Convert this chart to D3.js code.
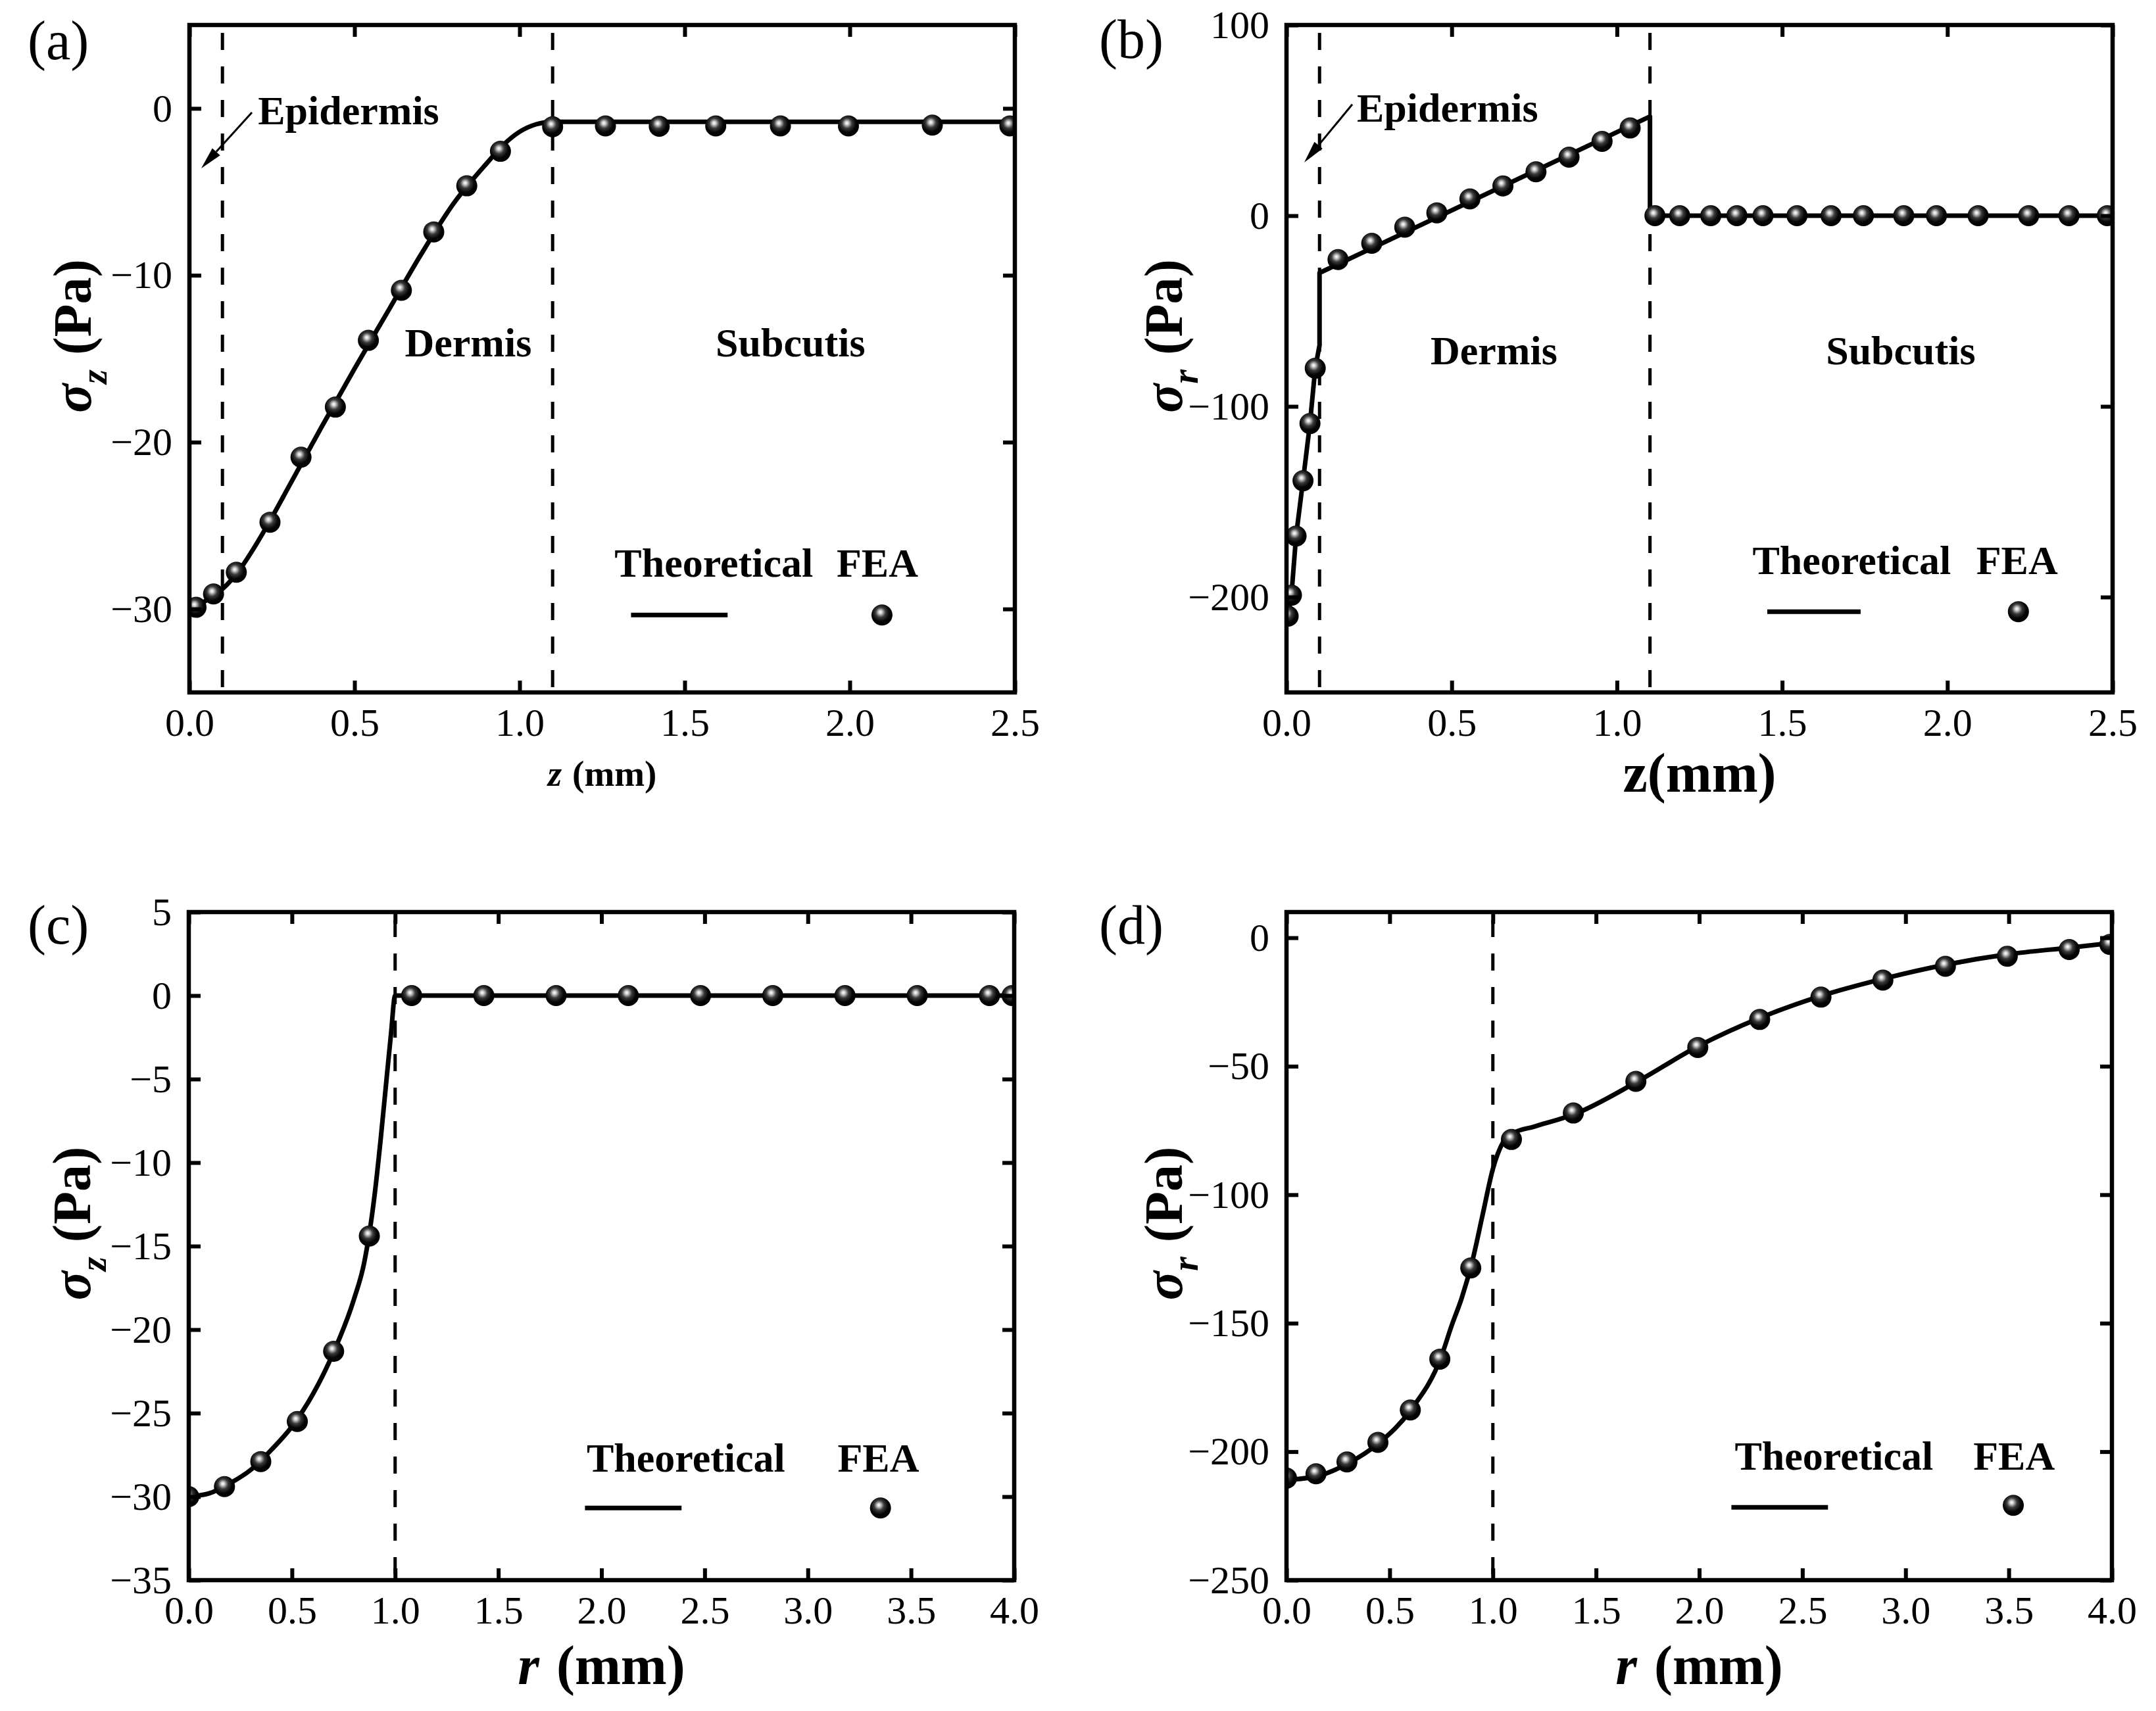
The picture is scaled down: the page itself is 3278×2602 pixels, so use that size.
<!DOCTYPE html>
<html>
<head>
<meta charset="utf-8">
<script src="https://cdn.jsdelivr.net/npm/d3@7"></script>
<style>
  body { margin: 0; background: #fff; }
  svg text { font-family: "Liberation Serif", "Times New Roman", serif; fill: #000; }
</style>
</head>
<body>
<svg id="fig" width="3278" height="2602"></svg>
<script>
// ---- data ----
// (a) sigma_z along z
var zA_fea  = [0.02, 0.073, 0.142, 0.244, 0.338, 0.442, 0.542, 0.642, 0.74, 0.84, 0.942, 1.1, 1.26, 1.423, 1.594, 1.79, 1.996, 2.25, 2.485]
var sA_fea  = [-29.9, -29.1, -27.8, -24.8, -20.9, -17.9, -13.9, -10.9, -7.4, -4.64, -2.57, -1.1, -1.05, -1.07, -1.05, -1.05, -1.05, -1.0, -1.05]
var zA_line = [0, 0.05, 0.1, 0.15, 0.2, 0.25, 0.3, 0.4, 0.5, 0.6, 0.7, 0.8, 0.9, 0.95, 1.0, 1.05, 1.1, 1.5, 2.0, 2.5]
var sA_line = [-30.0, -29.5, -28.8, -27.7, -26.2, -24.5, -22.7, -19.1, -15.6, -12.2, -8.8, -5.7, -3.3, -2.2, -1.4, -0.95, -0.8, -0.8, -0.8, -0.8]

// (b) sigma_r along z
var zB_fea  = [0.005, 0.015, 0.029, 0.05, 0.071, 0.087, 0.156, 0.258, 0.358, 0.455, 0.555, 0.655, 0.755, 0.855, 0.955, 1.04,
               1.115, 1.19, 1.284, 1.363, 1.442, 1.545, 1.648, 1.746, 1.868, 1.967, 2.093, 2.246, 2.368, 2.484]
var sB_fea  = [-210, -199, -168, -139, -109, -80, -23, -14.5, -6, 1.5, 8.8, 15.6, 23, 30.7, 39, 46,
               0, 0, 0, 0, 0, 0, 0, 0, 0, 0, 0, 0, 0, 0]
var zB_line = [0, 0.005, 0.015, 0.029, 0.05, 0.071, 0.087, 0.1, 0.1, 1.1, 1.1, 2.5]
var sB_line = [-213, -210, -199, -168, -139, -109, -80, -68, -30, 52, 0, 0]

// (c) sigma_z along r
var rC_fea  = [0.0, 0.173, 0.349, 0.526, 0.702, 0.875, 1.08, 1.43, 1.78, 2.13, 2.48, 2.83, 3.18, 3.53, 3.88, 3.99]
var sC_fea  = [-30, -29.4, -27.9, -25.5, -21.3, -14.4, 0, 0, 0, 0, 0, 0, 0, 0, 0, 0]
var rC_line = [0, 0.1, 0.2, 0.3, 0.4, 0.5, 0.6, 0.7, 0.8, 0.85, 0.9, 0.93, 0.96, 0.98, 1.0, 4.0]
var sC_line = [-30, -29.8, -29.2, -28.4, -27.2, -25.8, -23.9, -21.4, -18.2, -16.0, -12.0, -8.6, -4.8, -2.3, 0, 0]

// (d) sigma_r along r
var rD_fea  = [0, 0.143, 0.293, 0.443, 0.6, 0.743, 0.893, 1.09, 1.39, 1.693, 1.993, 2.293, 2.59, 2.89, 3.193, 3.493, 3.793, 3.99]
var sD_fea  = [-210.3, -208.6, -204, -196.4, -183.8, -164, -128.5, -78.5, -68.2, -55.9, -42.7, -31.8, -23.1, -16.5, -11.1, -7.2, -4.6, -2.6]
var rD_line = [0, 0.15, 0.3, 0.45, 0.6, 0.75, 0.8, 0.85, 0.9, 0.95, 1.0, 1.05, 1.1, 1.2, 1.4, 1.7, 2.0, 2.3, 2.6, 2.9, 3.2, 3.5, 3.8, 4.0]
var sD_line = [-211, -209.5, -204.5, -196.5, -184, -163, -151, -140, -126, -108, -90, -79.5, -76, -73.5, -68.5, -56, -42, -31, -22.4, -15.8, -10.4, -6.4, -3.8, -2.0]

// ticks and layer boundaries
var xTicksZ = [0, 0.5, 1.0, 1.5, 2.0, 2.5]
var xTicksR = [0, 0.5, 1.0, 1.5, 2.0, 2.5, 3.0, 3.5, 4.0]
var yTicksA = [0, -10, -20, -30]
var yTicksB = [100, 0, -100, -200]
var yTicksC = [5, 0, -5, -10, -15, -20, -25, -30, -35]
var yTicksD = [0, -50, -100, -150, -200, -250]
var boundsZ = [0.1, 1.1]
var boundsR = [1.0]

var svg = d3.select('#fig')
var defs = svg.append('defs')

// shaded sphere marker
var grad = defs.append('radialGradient').attr('id', 'ball')
  .attr('cx', 0.45).attr('cy', 0.4).attr('r', 0.6).attr('fx', 0.42).attr('fy', 0.36)
grad.append('stop').attr('offset', 0).attr('stop-color', '#ffffff')
grad.append('stop').attr('offset', 0.12).attr('stop-color', '#d8d8d8')
grad.append('stop').attr('offset', 0.4).attr('stop-color', '#3a3a3a')
grad.append('stop').attr('offset', 0.7).attr('stop-color', '#050505')
grad.append('stop').attr('offset', 1).attr('stop-color', '#000')

var BALL_R = 16

function panel(o) {
  var x = d3.scaleLinear().domain(o.xDomain).range([o.left, o.right])
  var y = d3.scaleLinear().domain(o.yDomain).range([o.bottom, o.top])
  var w = o.right - o.left, h = o.bottom - o.top
  var g = svg.append('g').attr('class', 'panel-' + o.id)

  defs.append('clipPath').attr('id', 'clip-' + o.id)
    .append('rect').attr('x', o.left).attr('y', o.top).attr('width', w).attr('height', h)

  // layer boundaries
  g.selectAll('line.bound').data(o.bounds).enter().append('line')
    .attr('class', 'bound')
    .attr('x1', function(d) { return x(d) }).attr('x2', function(d) { return x(d) })
    .attr('y1', o.top + 12).attr('y2', o.bottom)
    .attr('stroke', '#000').attr('stroke-width', 5)
    .attr('stroke-dasharray', '26,25')

  // theoretical curve
  var line = d3.line()
    .x(function(d) { return x(d[0]) })
    .y(function(d) { return y(d[1]) })
    .curve(o.curve)
  g.append('path')
    .datum(d3.zip(o.lineX, o.lineY))
    .attr('clip-path', 'url(#clip-' + o.id + ')')
    .attr('d', line)
    .attr('fill', 'none').attr('stroke', '#000').attr('stroke-width', 7)
    .attr('stroke-linejoin', 'round')

  // FEA points
  g.append('g').attr('clip-path', 'url(#clip-' + o.id + ')')
    .selectAll('circle')
    .data(d3.zip(o.feaX, o.feaY)).enter().append('circle')
      .attr('cx', function(d) { return x(d[0]) })
      .attr('cy', function(d) { return y(d[1]) })
      .attr('r', BALL_R)
      .attr('fill', 'url(#ball)')

  // axes, ticks inward on all four sides
  function style(sel) {
    sel.attr('font-family', '"Liberation Serif", "Times New Roman", serif').attr('font-size', 60)
    sel.select('.domain').remove()
    sel.selectAll('.tick line').attr('stroke-width', 6)
  }
  g.append('g').attr('transform', 'translate(0,' + o.bottom + ')')
    .call(d3.axisBottom(x).tickValues(o.xTicks).tickSize(-18).tickPadding(23).tickFormat(d3.format('.1f')))
    .call(style)
  g.append('g').attr('transform', 'translate(0,' + o.top + ')')
    .call(d3.axisTop(x).tickValues(o.xTicks).tickSize(-18).tickFormat(''))
    .call(style)
  g.append('g').attr('transform', 'translate(' + o.left + ',0)')
    .call(d3.axisLeft(y).tickValues(o.yTicks).tickSize(-18).tickPadding(26).tickFormat(d3.format('d')))
    .call(style)
  g.append('g').attr('transform', 'translate(' + o.right + ',0)')
    .call(d3.axisRight(y).tickValues(o.yTicks).tickSize(-18).tickFormat(''))
    .call(style)

  // frame
  g.append('rect')
    .attr('x', o.left).attr('y', o.top).attr('width', w).attr('height', h)
    .attr('fill', 'none').attr('stroke', '#000').attr('stroke-width', 6.5)

  // panel letter
  g.append('text').attr('x', o.tagX).attr('y', o.tagY)
    .attr('font-size', 84).text('(' + o.id + ')')

  // x label
  var xl = g.append('text')
    .attr('x', o.left + w * 0.5).attr('y', o.bottom + o.xLabelDy)
    .attr('text-anchor', 'middle').attr('font-weight', 'bold').attr('font-size', o.xLabelSize)
  xl.append('tspan').attr('font-style', o.xItalic ? 'italic' : 'normal').text(o.xVar)
  xl.append('tspan').attr('dx', o.xUnitGap).text(o.xUnit)

  // y label
  var cy = o.top + h * 0.466
  var yl = g.append('text')
    .attr('transform', 'translate(' + (o.left - o.yLabelDx) + ',' + cy + ') rotate(-90)')
    .attr('text-anchor', 'middle').attr('font-weight', 'bold').attr('font-size', 82)
  yl.append('tspan').attr('font-style', 'italic').text('σ')
  yl.append('tspan').attr('font-style', 'italic').attr('font-size', 56).attr('dy', 24).text(o.ySub)
  yl.append('tspan').attr('dy', -24).attr('dx', 22).text('(Pa)')

  // region labels
  o.regions.forEach(function(r) {
    g.append('text').attr('x', o.left + w * r.fx).attr('y', o.top + h * r.fy)
      .attr('font-weight', 'bold').attr('font-size', 62).text(r.text)
  })

  // epidermis arrow
  if (o.arrow) {
    var a = o.arrow
    var x1 = o.left + w * a[0], y1 = o.top + h * a[1]
    var x2 = o.left + w * a[2], y2 = o.top + h * a[3]
    var ang = Math.atan2(y2 - y1, x2 - x1), L = 34, Hw = 8
    var bx = x2 - L * Math.cos(ang), by = y2 - L * Math.sin(ang)
    g.append('line').attr('x1', x1).attr('y1', y1).attr('x2', bx).attr('y2', by)
      .attr('stroke', '#000').attr('stroke-width', 3)
    g.append('path')
      .attr('d', 'M' + x2 + ',' + y2 +
        'L' + (bx + Hw * Math.sin(ang)) + ',' + (by - Hw * Math.cos(ang)) +
        'L' + (bx - Hw * Math.sin(ang)) + ',' + (by + Hw * Math.cos(ang)) + 'Z')
      .attr('fill', '#000')
  }

  // legend
  var L = o.legend
  g.append('text').attr('x', o.left + w * L.theoX).attr('y', o.top + h * L.textY)
    .attr('font-weight', 'bold').attr('font-size', 62).text('Theoretical')
  g.append('text').attr('x', o.left + w * L.feaX).attr('y', o.top + h * L.textY)
    .attr('font-weight', 'bold').attr('font-size', 62).text('FEA')
  g.append('line')
    .attr('x1', o.left + w * L.lineX[0]).attr('x2', o.left + w * L.lineX[1])
    .attr('y1', o.top + h * L.lineY).attr('y2', o.top + h * L.lineY)
    .attr('stroke', '#000').attr('stroke-width', 7)
  g.append('circle')
    .attr('cx', o.left + w * L.ballX).attr('cy', o.top + h * L.ballY)
    .attr('r', BALL_R).attr('fill', 'url(#ball)')
}

panel({
  id: 'a', left: 288, right: 1543, top: 38, bottom: 1053,
  xDomain: [0, 2.5], yDomain: [-35, 5], xTicks: xTicksZ, yTicks: yTicksA,
  bounds: boundsZ, curve: d3.curveMonotoneX,
  lineX: zA_line, lineY: sA_line, feaX: zA_fea, feaY: sA_fea,
  tagX: 42, tagY: 90,
  xVar: 'z', xUnit: '(mm)', xUnitGap: 16, xItalic: true, xLabelSize: 55, xLabelDy: 142,
  ySub: 'z', yLabelDx: 150,
  regions: [
    { text: 'Epidermis', fx: 0.083, fy: 0.149 },
    { text: 'Dermis', fx: 0.261, fy: 0.497 },
    { text: 'Subcutis', fx: 0.6375, fy: 0.497 }
  ],
  arrow: [0.0757, 0.131, 0.0143, 0.2148],
  legend: { theoX: 0.515, feaX: 0.784, textY: 0.827, lineX: [0.535, 0.652], lineY: 0.884, ballX: 0.839, ballY: 0.884 }
})

panel({
  id: 'b', left: 1956, right: 3212, top: 38, bottom: 1053,
  xDomain: [0, 2.5], yDomain: [-250, 100], xTicks: xTicksZ, yTicks: yTicksB,
  bounds: boundsZ, curve: d3.curveLinear,
  lineX: zB_line, lineY: sB_line, feaX: zB_fea, feaY: sB_fea,
  tagX: 1671, tagY: 88,
  xVar: 'z', xUnit: '(mm)', xUnitGap: 0, xItalic: false, xLabelSize: 84, xLabelDy: 151,
  ySub: 'r', yLabelDx: 159,
  regions: [
    { text: 'Epidermis', fx: 0.0852, fy: 0.145 },
    { text: 'Dermis', fx: 0.1744, fy: 0.508 },
    { text: 'Subcutis', fx: 0.653, fy: 0.508 }
  ],
  arrow: [0.0796, 0.119, 0.0215, 0.206],
  legend: { theoX: 0.564, feaX: 0.835, textY: 0.823, lineX: [0.582, 0.695], lineY: 0.879, ballX: 0.886, ballY: 0.879 }
})

panel({
  id: 'c', left: 287, right: 1542, top: 1387, bottom: 2403,
  xDomain: [0, 4], yDomain: [-35, 5], xTicks: xTicksR, yTicks: yTicksC,
  bounds: boundsR, curve: d3.curveMonotoneX,
  lineX: rC_line, lineY: sC_line, feaX: rC_fea, feaY: sC_fea,
  tagX: 42, tagY: 1435,
  xVar: 'r', xUnit: '(mm)', xUnitGap: 26, xItalic: true, xLabelSize: 84, xLabelDy: 158,
  ySub: 'z', yLabelDx: 150,
  regions: [],
  arrow: null,
  legend: { theoX: 0.482, feaX: 0.786, textY: 0.838, lineX: [0.48, 0.597], lineY: 0.892, ballX: 0.838, ballY: 0.892 }
})

panel({
  id: 'd', left: 1956, right: 3211, top: 1387, bottom: 2403,
  xDomain: [0, 4], yDomain: [-250, 10], xTicks: xTicksR, yTicks: yTicksD,
  bounds: boundsR, curve: d3.curveMonotoneX,
  lineX: rD_line, lineY: sD_line, feaX: rD_fea, feaY: sD_fea,
  tagX: 1671, tagY: 1435,
  xVar: 'r', xUnit: '(mm)', xUnitGap: 26, xItalic: true, xLabelSize: 84, xLabelDy: 158,
  ySub: 'r', yLabelDx: 159,
  regions: [],
  arrow: null,
  legend: { theoX: 0.543, feaX: 0.832, textY: 0.835, lineX: [0.539, 0.656], lineY: 0.891, ballX: 0.8805, ballY: 0.888 }
})
</script>
</body>
</html>
